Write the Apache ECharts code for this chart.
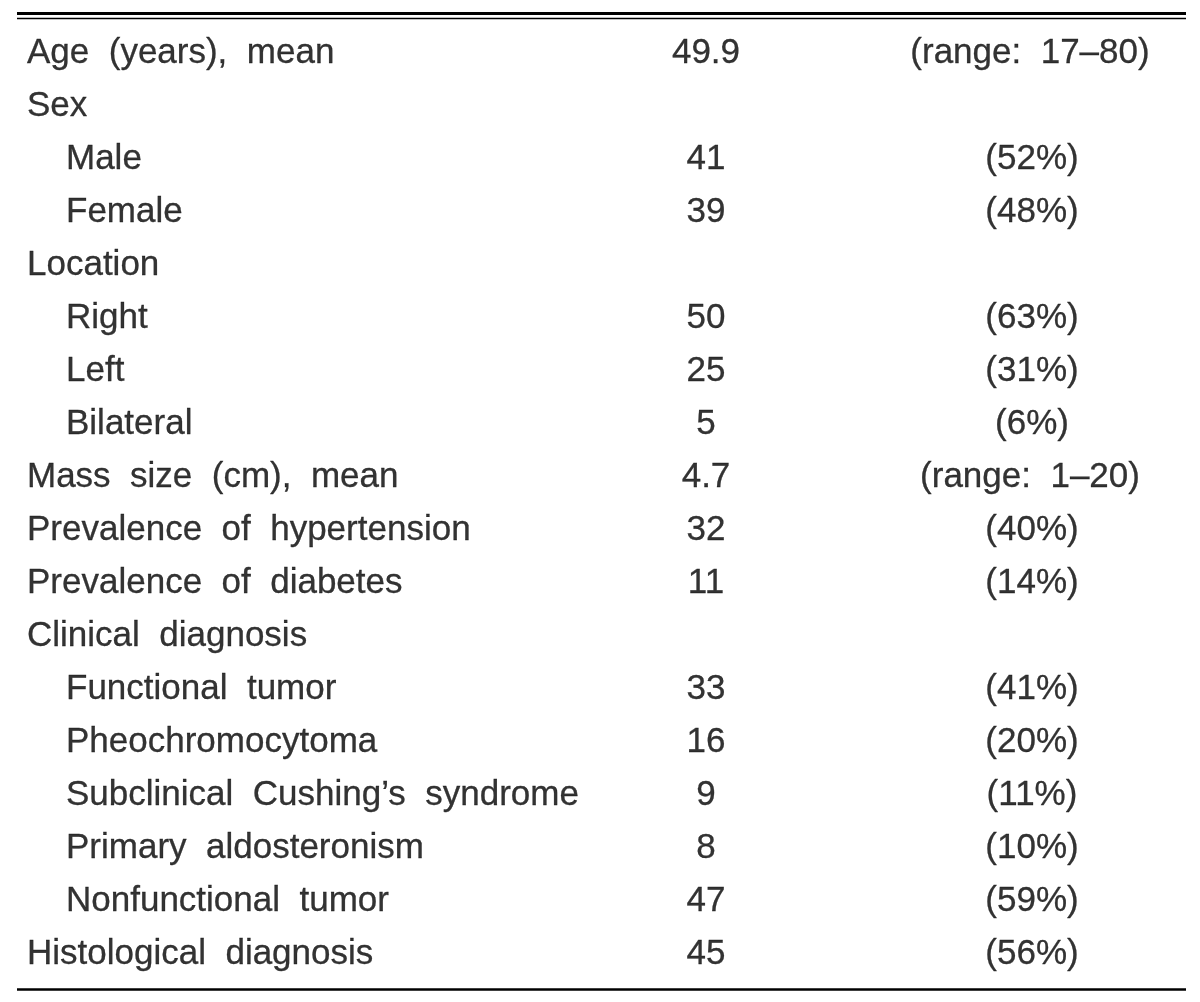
<!DOCTYPE html>
<html>
<head>
<meta charset="utf-8">
<title>Patient characteristics</title>
<script src="https://cdn.jsdelivr.net/npm/echarts@6/dist/echarts.min.js"></script>
<style>
    html, body { margin: 0; padding: 0; background: #fff; }
    #chart { width: 1200px; height: 1002px; }
</style>
</head>
<body>
<div id="chart"></div>
<script>
// table rows (top to bottom)
const rowNames = [
    'Age (years), mean', 'Sex', 'Male', 'Female', 'Location', 'Right', 'Left', 'Bilateral',
    'Mass size (cm), mean', 'Prevalence of hypertension', 'Prevalence of diabetes',
    'Clinical diagnosis', 'Functional tumor', 'Pheochromocytoma',
    'Subclinical Cushing\u2019s syndrome', 'Primary aldosteronism', 'Nonfunctional tumor',
    'Histological diagnosis'
];
// 1 = sub item (indented)
const rowLevel = [0, 0, 1, 1, 0, 1, 1, 1, 0, 0, 0, 0, 1, 1, 1, 1, 1, 0];
const counts = [49.9, null, 41, 39, null, 50, 25, 5, 4.7, 32, 11, null, 33, 16, 9, 8, 47, 45];
const percents = [null, null, 52, 48, null, 63, 31, 6, null, 40, 14, null, 41, 20, 11, 10, 59, 56];
const rangeMin = [17, null, null, null, null, null, null, null, 1, null, null, null, null, null, null, null, null, null];
const rangeMax = [80, null, null, null, null, null, null, null, 20, null, null, null, null, null, null, null, null, null];

// layout
const colLabel = 27, indent = 39, colCount = 706, colNote = 1030;
const font = 'Liberation Sans, Arial, sans-serif';
const fs = 35;

// the source table has wide word gaps
const wide = s => s.replace(/ /g, '  ');

let labelData = [], countData = [], noteData = [];
for (let i = 0; i < rowNames.length; i++) {
    labelData.push({ value: [colLabel + rowLevel[i] * indent, i], name: rowNames[i] });
    if (counts[i] !== null) {
        countData.push({ value: [colCount, i], name: String(counts[i]) });
    }
    if (percents[i] !== null) {
        noteData.push({ value: [colNote + 2, i], name: '(' + percents[i] + '%)' });
    } else if (rangeMin[i] !== null) {
        noteData.push({ value: [colNote, i], name: '(range: ' + rangeMin[i] + '\u2013' + rangeMax[i] + ')' });
    }
}

const textStyle = {
    show: true,
    color: '#000',
    fontFamily: font,
    fontSize: fs,
    textBorderColor: '#000',
    textBorderWidth: 0.3,
    formatter: p => wide(p.name)
};

const myChart = echarts.init(document.getElementById('chart'));
const option = {
    animation: false,
    grid: { left: 0, right: 0, top: 27, bottom: 21 },
    xAxis: { type: 'value', min: 0, max: 1200, show: false },
    yAxis: { type: 'category', data: rowNames, inverse: true, show: false },
    series: [
        {
            type: 'scatter', symbolSize: 0, data: labelData,
            label: Object.assign({}, textStyle, { position: 'right', distance: 0 })
        },
        {
            type: 'scatter', symbolSize: 0, data: countData,
            label: Object.assign({}, textStyle, { position: 'inside' })
        },
        {
            type: 'scatter', symbolSize: 0, data: noteData,
            label: Object.assign({}, textStyle, { position: 'inside' })
        }
    ],
    graphic: [
        { type: 'line', shape: { x1: 17, y1: 13.5, x2: 1186, y2: 13.5 }, style: { stroke: '#000', lineWidth: 3 } },
        { type: 'line', shape: { x1: 17, y1: 18.5, x2: 1186, y2: 18.5 }, style: { stroke: '#000', lineWidth: 1.5 } },
        { type: 'line', shape: { x1: 17, y1: 989.5, x2: 1186, y2: 989.5 }, style: { stroke: '#000', lineWidth: 2.5 } }
    ]
};
myChart.setOption(option, true);
</script>
</body>
</html>
